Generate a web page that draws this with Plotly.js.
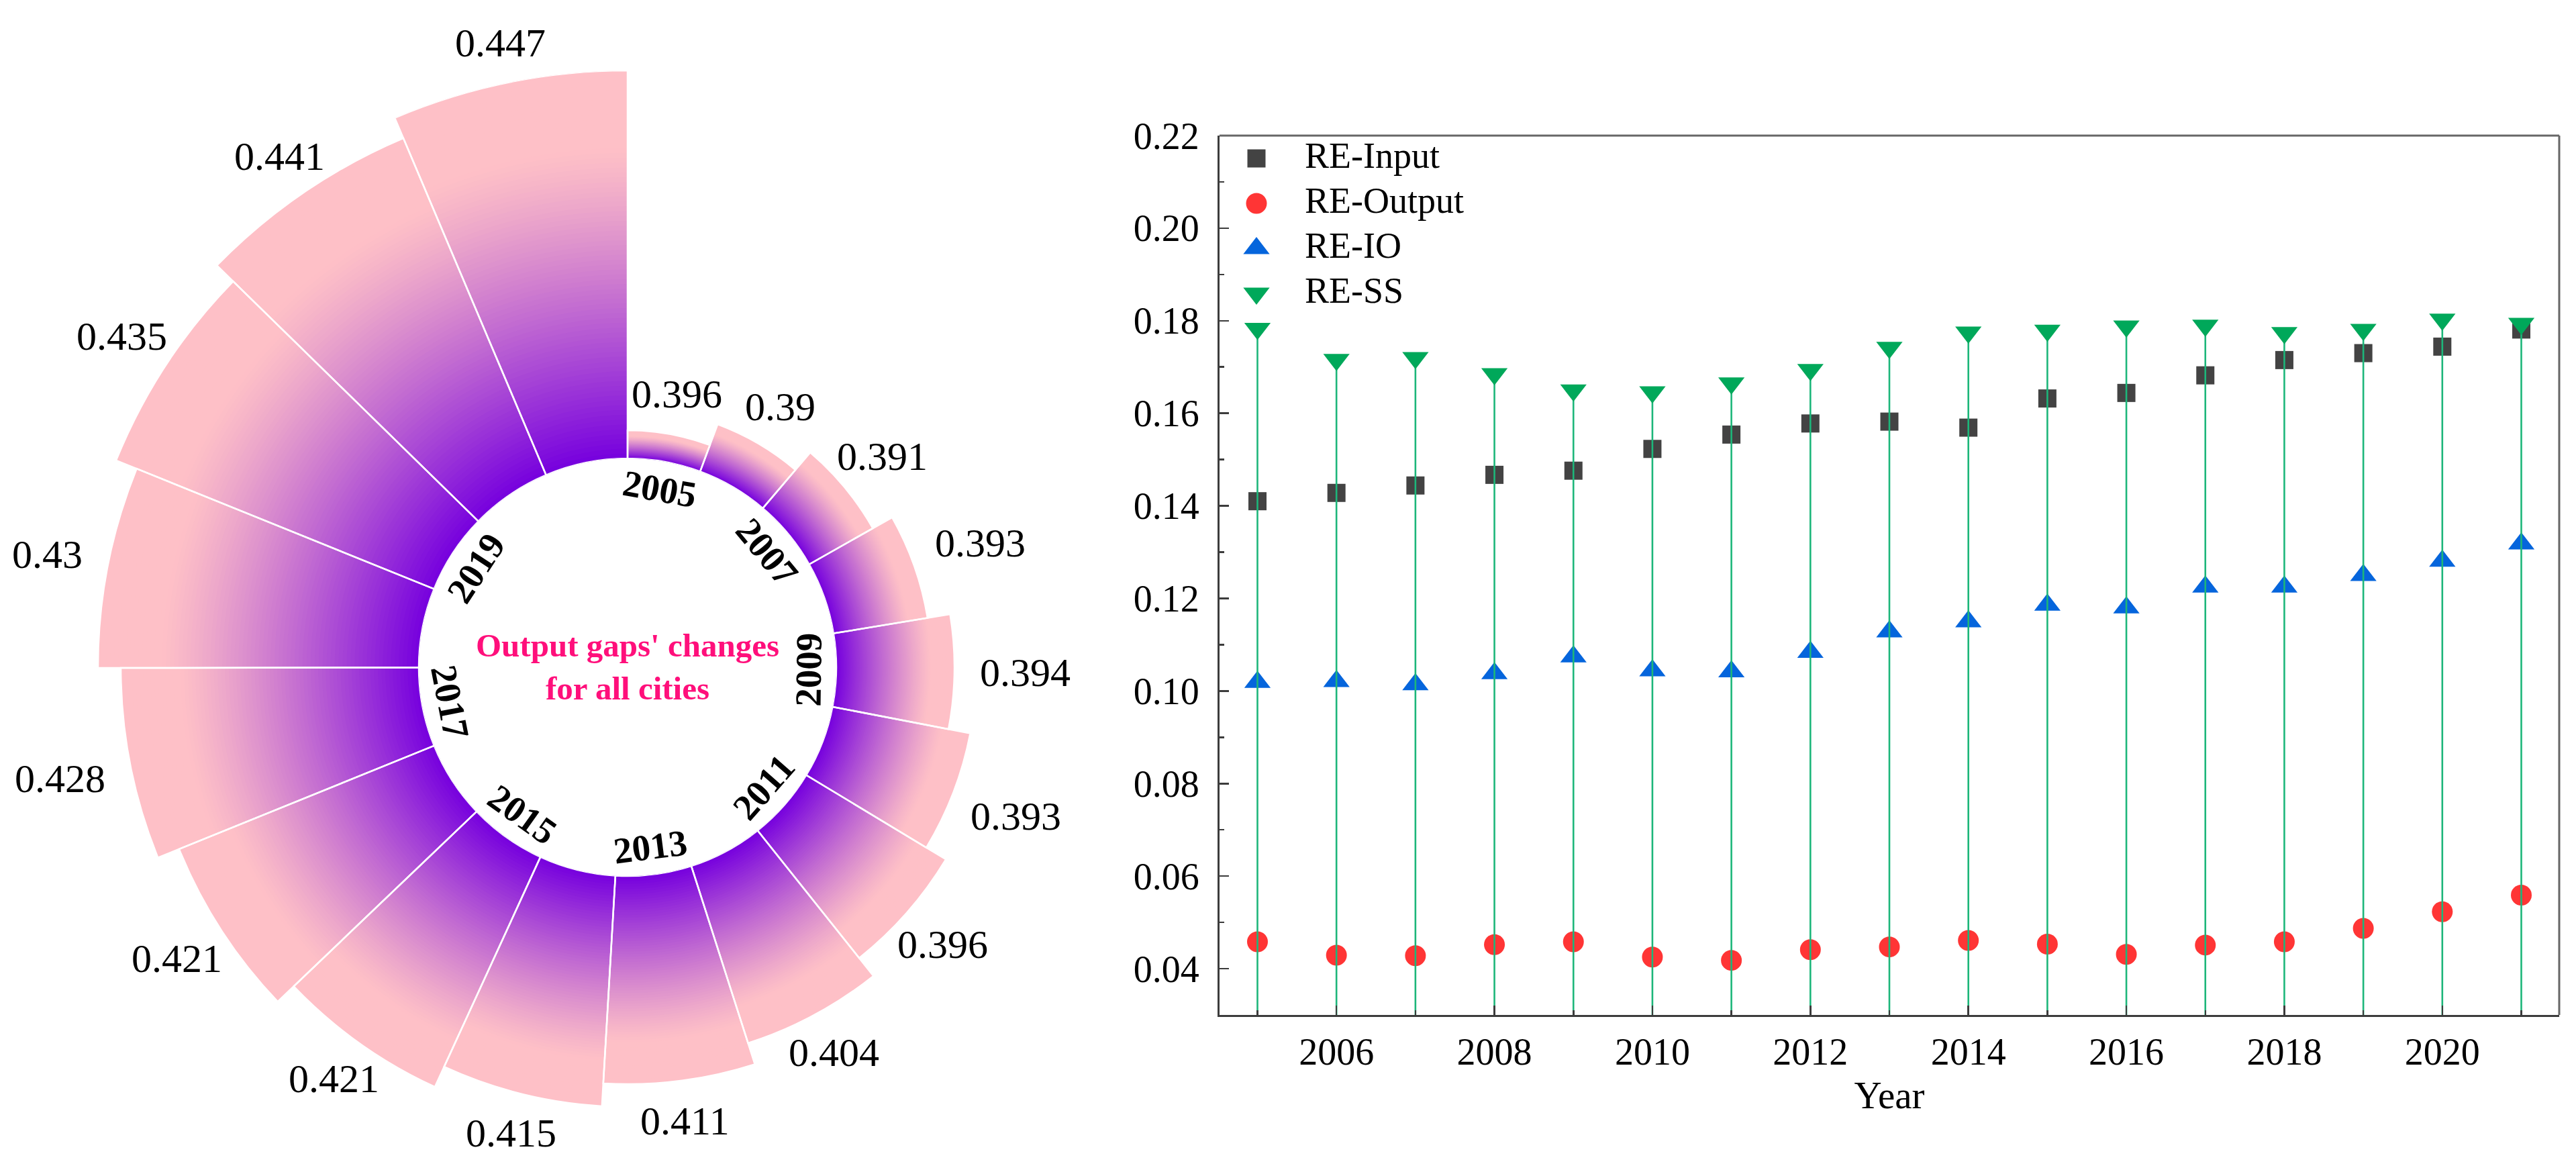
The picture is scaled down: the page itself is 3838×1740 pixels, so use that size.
<!DOCTYPE html>
<html>
<head>
<meta charset="utf-8">
<script src="https://cdn.plot.ly/plotly-3.0.1.min.js"></script>
<style>
  html, body { margin: 0; padding: 0; background: #fff; overflow: hidden; }
  #wrap { width: 3838px; height: 1740px; overflow: hidden; }
  #chart { width: 3838px; height: 1900px; }
</style>
</head>
<body>
<div id="wrap"><div id="chart"></div></div>
<script>
// ---- left panel: output gaps per year (rose with gradient bars) ----
const roseYears = ['2005', '2006', '2007', '2008', '2009', '2010', '2011', '2012', '2013',
  '2014', '2015', '2016', '2017', '2018', '2019', '2020', '2021'];
const roseValues = [0.396, 0.39, 0.391, 0.393, 0.394, 0.393, 0.396, 0.404, 0.411,
  0.415, 0.421, 0.421, 0.428, 0.43, 0.435, 0.441, 0.447];
// bar lengths outward from the hole (they grow in year order)
const roseLengths = [42, 75, 109, 142, 176, 209, 243, 277, 310, 344, 377, 410, 444, 478, 511, 545, 578];
const ringYears = ['2005', '2007', '2009', '2011', '2013', '2015', '2017', '2019'];

// ---- right panel: RE indices by year ----
const years = [2005, 2006, 2007, 2008, 2009, 2010, 2011, 2012, 2013, 2014, 2015, 2016, 2017, 2018, 2019, 2020, 2021];
const reInput = [0.1410, 0.1428, 0.1444, 0.1467, 0.1476, 0.1523, 0.1554, 0.1578, 0.1582,
  0.1569, 0.1632, 0.1644, 0.1682, 0.1715, 0.1730, 0.1744, 0.1781];
const reOutput = [0.0458, 0.0429, 0.0428, 0.0452, 0.0458, 0.0425, 0.0418, 0.0441, 0.0447,
  0.0461, 0.0453, 0.0431, 0.0451, 0.0458, 0.0487, 0.0523, 0.0559];
const reIO = [0.1019, 0.1021, 0.1014, 0.1038, 0.1074, 0.1044, 0.1042, 0.1084, 0.1128,
  0.1150, 0.1186, 0.1180, 0.1225, 0.1225, 0.1250, 0.1281, 0.1318];
const reSS = [0.1783, 0.1716, 0.1720, 0.1685, 0.1650, 0.1646, 0.1665, 0.1694, 0.1742,
  0.1775, 0.1779, 0.1788, 0.1790, 0.1774, 0.1781, 0.1803, 0.1794];
const seriesNames = ['RE-Input', 'RE-Output', 'RE-IO', 'RE-SS'];

// ---- page geometry (pixels) ----
const W = 3838, H = 1900;
const px = x => x / W;
const py = y => (H - y) / H;
const ROSE_CX = 935, ROSE_CY = 994, ROSE_R = 889, HOLE_R = 311;
const PLOT_L = 1817, PLOT_R = 3813, PLOT_T = 202, PLOT_B = 1512;
const Y_MIN = 0.03, Y_MAX = 0.22;
const SERIF = 'Liberation Serif, Times New Roman, serif';
const AXIS_COLOR = '#3c3c3c';

const STYLE = [
  { symbol: 'square', color: '#434343', size: 27 },
  { symbol: 'circle', color: '#ff3535', size: 31 },
  { symbol: 'triangle-up', color: '#0565dc', size: 34 },
  { symbol: 'triangle-down', color: '#00a85a', size: 34 },
];
const STEM_COLOR = '#1db67a';

// ---- rose geometry ----
const total = roseValues.reduce((a, b) => a + b, 0);
const roseWidth = roseValues.map(v => v / total * 360);
const roseTheta = [];
let acc = 0;
roseWidth.forEach(w => { roseTheta.push(acc + w / 2); acc += w; });
const rMax = Math.max(...roseLengths);
const pxPerUnit = (ROSE_R - HOLE_R) / rMax;

const PURPLE = [118, 0, 222];
const PINK = [254, 192, 199];
function bandColor(t) {
  const s = Math.min(1, t / 0.8);
  const e = 1 - Math.pow(1 - s, 1.2);
  const c = PURPLE.map((p, i) => Math.round(p + (PINK[i] - p) * e));
  return `rgb(${c.join(',')})`;
}

const traces = [];
const N_BANDS = 80;
// each bar is split into thin bands to fake the purple -> pink gradient
for (let k = 0; k < N_BANDS; k++) {
  traces.push({
    type: 'barpolar', subplot: 'polar',
    theta: roseTheta, width: roseWidth,
    base: roseLengths.map(L => L * k / N_BANDS),
    r: roseLengths.map(L => L / N_BANDS + (k < N_BANDS - 1 ? 1.2 : 0)),
    marker: { color: bandColor((k + 0.5) / N_BANDS), line: { width: 0 } },
    hoverinfo: 'skip',
  });
}
// white separators between the bars
traces.push({
  type: 'barpolar', subplot: 'polar',
  theta: roseTheta, width: roseWidth, r: roseLengths,
  marker: { color: 'rgba(0,0,0,0)', line: { color: '#ffffff', width: 2.5 } },
  hoverinfo: 'skip',
});

// ---- right panel traces ----
const seriesData = [reInput, reOutput, reIO, reSS];
seriesData.forEach((ys, i) => {
  const st = STYLE[i];
  const tr = {
    type: 'scatter', mode: 'markers', x: years, y: ys, name: seriesNames[i],
    xaxis: 'x', yaxis: 'y',
    marker: { symbol: st.symbol, color: st.color, size: st.size, opacity: 1, line: { width: 0 } },
    cliponaxis: false,
  };
  if (i === 3) {
    // drop lines from the axis floor up to each RE-SS point
    tr.error_y = {
      type: 'data', symmetric: false,
      array: ys.map(() => 0), arrayminus: ys.map(v => v - Y_MIN),
      color: STEM_COLOR, thickness: 2.6, width: 0,
    };
  }
  traces.push(tr);
});

// hand-made legend on an overlay axis measured in plot pixels
const LEG_X = 55, LEG_TX = 127, LEG_TOP = 1276, LEG_STEP = 67;
const legRows = seriesNames.map((_, i) => LEG_TOP - i * LEG_STEP);
traces.push({
  type: 'scatter', mode: 'markers', xaxis: 'x2', yaxis: 'y2',
  x: legRows.map(() => LEG_X), y: legRows,
  marker: {
    symbol: STYLE.map(s => s.symbol), color: STYLE.map(s => s.color),
    size: STYLE.map(s => s.size), opacity: 1, line: { width: 0 },
  },
  hoverinfo: 'skip', cliponaxis: false,
});
traces.push({
  type: 'scatter', mode: 'text', xaxis: 'x2', yaxis: 'y2',
  x: legRows.map(() => LEG_TX), y: legRows, text: seriesNames,
  textposition: 'middle right',
  textfont: { family: SERIF, size: 54, color: '#000' },
  hoverinfo: 'skip', cliponaxis: false,
});

// ---- annotations on the rose ----
const annotations = [];
const VAL_FS = 60, VAL_GAP = 38, VAL_HALF_H = 22;
roseValues.forEach((v, i) => {
  const txt = String(v);
  const th = roseTheta[i] * Math.PI / 180;
  const sx = Math.sin(th), cy = Math.cos(th);
  const halfW = ((txt.length - 1) * 0.5 + 0.25) * VAL_FS / 2;
  const d = Math.min(halfW / Math.max(Math.abs(sx), 1e-6), VAL_HALF_H / Math.max(Math.abs(cy), 1e-6));
  const rr = HOLE_R + roseLengths[i] * pxPerUnit + VAL_GAP + d;
  annotations.push({
    xref: 'paper', yref: 'paper',
    x: px(ROSE_CX + rr * sx), y: py(ROSE_CY - rr * cy),
    xanchor: 'center', yanchor: 'middle', showarrow: false,
    text: txt, font: { family: SERIF, size: VAL_FS, color: '#000' },
  });
});

const RING_R = 270;
ringYears.forEach(yr => {
  const thDeg = roseTheta[roseYears.indexOf(yr)];
  const th = thDeg * Math.PI / 180;
  let ang;
  if (thDeg > 90 && thDeg < 270) ang = thDeg - 180;
  else ang = thDeg > 180 ? thDeg - 360 : thDeg;
  annotations.push({
    xref: 'paper', yref: 'paper',
    x: px(ROSE_CX + RING_R * Math.sin(th)), y: py(ROSE_CY - RING_R * Math.cos(th)),
    xanchor: 'center', yanchor: 'middle', showarrow: false, textangle: ang,
    text: yr, font: { family: SERIF, size: 55, color: '#000', weight: 'bold' },
  });
});

annotations.push({
  xref: 'paper', yref: 'paper', x: px(ROSE_CX), y: py(ROSE_CY),
  xanchor: 'center', yanchor: 'middle', showarrow: false,
  text: "Output gaps' changes<br>for all cities",
  font: { family: SERIF, size: 49, color: '#ff0f7b', weight: 'bold' },
});

const xDom = [px(PLOT_L), px(PLOT_R)];
const yDom = [py(PLOT_B), py(PLOT_T)];
const tickFont = { family: SERIF, size: 56, color: '#000' };

const layout = {
  width: W, height: H,
  margin: { l: 0, r: 0, t: 0, b: 0 },
  paper_bgcolor: '#fff', plot_bgcolor: 'rgba(0,0,0,0)',
  showlegend: false,
  polar: {
    domain: { x: [px(ROSE_CX - ROSE_R), px(ROSE_CX + ROSE_R)], y: [py(ROSE_CY + ROSE_R), py(ROSE_CY - ROSE_R)] },
    hole: HOLE_R / ROSE_R,
    bgcolor: 'rgba(0,0,0,0)',
    barmode: 'overlay',
    radialaxis: { range: [0, rMax], visible: false, showgrid: false, showline: false },
    angularaxis: { rotation: 90, direction: 'clockwise', visible: false, showgrid: false, showline: false },
  },
  xaxis: {
    domain: xDom, anchor: 'y', range: [2004.52, 2021.48],
    tick0: 2006, dtick: 2, ticks: 'inside', ticklen: 14, tickwidth: 2.5, tickcolor: AXIS_COLOR,
    minor: { dtick: 1, ticks: 'inside', ticklen: 7, tickwidth: 2.5, tickcolor: AXIS_COLOR },
    showline: true, linecolor: AXIS_COLOR, linewidth: 3, mirror: false,
    showgrid: false, zeroline: false, tickfont: tickFont, ticklabelstandoff: 4,
    title: { text: 'Year', font: { family: SERIF, size: 57, color: '#000' }, standoff: 14 },
  },
  yaxis: {
    domain: yDom, anchor: 'x', range: [Y_MIN, Y_MAX],
    tick0: 0.04, dtick: 0.02, tickformat: '.2f',
    ticks: 'inside', ticklen: 14, tickwidth: 2.5, tickcolor: AXIS_COLOR,
    minor: { dtick: 0.01, ticks: 'inside', ticklen: 7, tickwidth: 2.5, tickcolor: AXIS_COLOR },
    showline: true, linecolor: AXIS_COLOR, linewidth: 3, mirror: false,
    showgrid: false, zeroline: false, tickfont: tickFont, ticklabelstandoff: 16,
  },
  xaxis2: { overlaying: 'x', anchor: 'y2', range: [0, PLOT_R - PLOT_L], visible: false, fixedrange: true },
  yaxis2: { overlaying: 'y', anchor: 'x2', range: [0, PLOT_B - PLOT_T], visible: false, fixedrange: true },
  shapes: [
    { type: 'line', xref: 'x domain', yref: 'y domain', x0: 0, x1: 1, y0: 1, y1: 1, line: { color: '#666', width: 3 } },
    { type: 'line', xref: 'x domain', yref: 'y domain', x0: 1, x1: 1, y0: 0, y1: 1, line: { color: '#666', width: 3 } },
  ],
  annotations,
};

Plotly.newPlot('chart', traces, layout, { displayModeBar: false, staticPlot: true });
</script>
</body>
</html>
